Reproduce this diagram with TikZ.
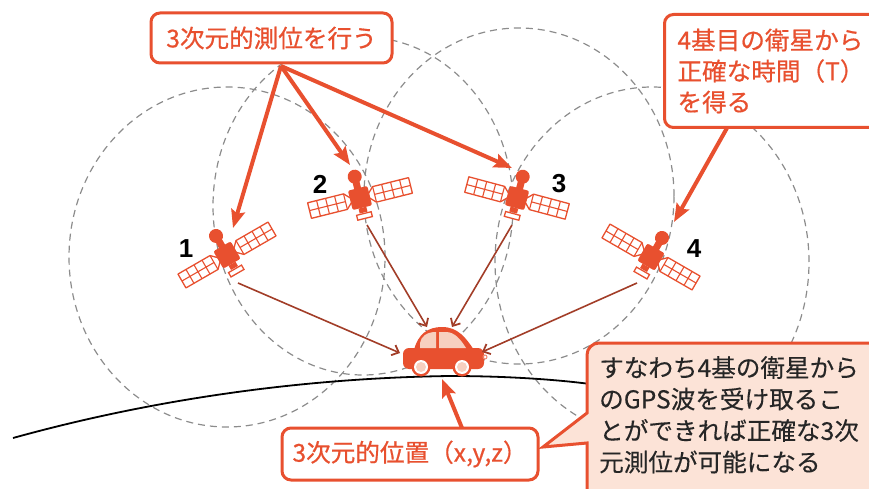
\documentclass[tikz,border=0pt]{standalone}
\usepackage{fontspec}
\setmainfont{Noto Sans CJK JP}
\newfontfamily\labelfont{Noto Sans CJK JP}[FakeBold=0.6]
\newfontfamily\notefont{Noto Sans CJK JP}[FakeBold=0.3]
\newfontfamily\digitfont{Liberation Sans}
\usetikzlibrary{arrows.meta}

\definecolor{gpsred}{HTML}{E8502F}
\definecolor{gpsdark}{HTML}{A23D28}
\definecolor{peach}{HTML}{FCE3D7}
\definecolor{glass}{HTML}{F7D0C0}
\definecolor{orbitgray}{HTML}{8C8C8C}
\definecolor{ink}{HTML}{262626}

\tikzset{
  orbit/.style={draw=orbitgray, line width=1.2pt, dash pattern=on 7pt off 5pt},
  labelbox/.style={draw=gpsred, line width=3pt, rounded corners=9pt, fill=white,
    text=gpsred, font=\labelfont\fontsize{24.6}{31}\selectfont, inner sep=0pt},
  pointer/.style={draw=gpsred, line width=4pt, -{Stealth[length=18pt,width=14pt,inset=3pt]}},
  signal/.style={draw=gpsdark, line width=1.6pt,
    -{Straight Barb[length=6pt,width=11pt,line width=1.8pt]}},
  satno/.style={font=\digitfont\bfseries\fontsize{26}{26}\selectfont, text=black, inner sep=0pt},
  satellite/.pic={
    % two solar panels with cell grids
    \foreach \s in {1,-1}{
      \begin{scope}[xscale=\s]
        \draw[gpsred, line width=1.3pt, fill=white, line join=round]
          (9,-2) -- (15,-8) -- (52,-8) -- (52,8) -- (15,8) -- (9,2) -- cycle;
        \draw[gpsred, line width=1.1pt]
          (15,-8) -- (15,8) (24.25,-8) -- (24.25,8) (33.5,-8) -- (33.5,8)
          (42.75,-8) -- (42.75,8) (15,0) -- (52,0);
      \end{scope}
    }
    % body, antenna head and base plate
    \fill[gpsred, rounded corners=2pt] (-10,-10) rectangle (10,10);
    \fill[gpsred] (0,-22) circle (7pt);
    \fill[gpsred] (-3.5,-16) rectangle (3.5,-9);
    \fill[gpsred] (-4,10) rectangle (4,15);
    \draw[gpsred, line width=1.3pt, fill=white] (-7.5,16) rectangle (7.5,21);
  }
}

\begin{document}
\begin{tikzpicture}[x=1pt, y=-1pt]
\useasboundingbox (0,0) rectangle (869,489);

% reception spheres
\draw[orbit] (227,257) ellipse [x radius=158pt, y radius=170pt];
\draw[orbit] (363,206) ellipse [x radius=150pt, y radius=169pt];
\draw[orbit] (519,196) ellipse [x radius=155pt, y radius=168pt];
\draw[orbit] (652,262) ellipse [x radius=157pt, y radius=175pt];

% earth surface
\draw[black, line width=1.8pt] (13,438) .. controls (150,400) and (300,378) .. (450,376)
  .. controls (510,376) and (560,380) .. (590,384);

% satellites
\pic[rotate=30]  at (227,255) {satellite};
\pic[rotate=14]  at (360,198) {satellite};
\pic[rotate=-15] at (517,198) {satellite};
\pic[rotate=-30] at (651,257) {satellite};

\node[satno] (n1) at (186,249) {1};
\node[satno] (n2) at (320,184) {2};
\node[satno] (n3) at (559,184) {3};
\node[satno] (n4) at (694,249) {4};

% car
\fill[gpsred] (474,350) .. controls (466,338) and (458,327) .. (442,327)
  .. controls (428,327) and (418,334) .. (414,350) -- cycle;
\fill[gpsred, rounded corners=6pt] (403,348) rectangle (484,369);
\fill[glass] (420,348) -- (420,343) .. controls (421,337) and (426,332) .. (436,332)
  -- (436,348) -- cycle;
\fill[glass] (439,332) -- (446,332) .. controls (455,332) and (461,340) .. (466,348)
  -- (439,348) -- cycle;
\foreach \wx in {421,462}{
  \fill[gpsred] (\wx,367) circle (9.5pt);
  \fill[white] (\wx,367) circle (7pt);
  \fill[glass] (\wx,367) circle (5pt);
}
\draw[gpsred!70, line width=1pt] (485,357) circle (2pt);

% anchor points
\coordinate (hub)  at (281,66);
\coordinate (hub4) at (727,128);
\coordinate (hub5) at (462,428);
\coordinate (s1in) at (233,228);
\coordinate (s2in) at (350,165);
\coordinate (s3in) at (512,168);
\coordinate (s4in) at (674,222);
\coordinate (s1out) at (238,283);
\coordinate (s2out) at (367,225);
\coordinate (s3out) at (512,225);
\coordinate (s4out) at (637,283);
\coordinate (carL)  at (400,353);
\coordinate (carTL) at (427,327);
\coordinate (carTR) at (452,327);
\coordinate (carR)  at (482,352);
\coordinate (carB)  at (442,379);

% signals from satellites to the car
\draw[signal] (s1out) -- (carL);
\draw[signal] (s2out) -- (carTL);
\draw[signal] (s3out) -- (carTR);
\draw[signal] (s4out) -- (carR);

% callouts
\node[labelbox, minimum width=241pt, minimum height=50pt] (aim) at (271.5,38) {3次元的測位を行う};
\node[labelbox, anchor=north west, minimum height=113pt, inner xsep=13pt,
  text width=205pt, align=left] (clock) at (663,13)
  {4基目の衛星から\\正確な時間（T）\\を得る};
\node[labelbox, minimum width=256pt, minimum height=52pt] (pos) at (410,454) {3次元的位置（x,y,z）};

\draw[pointer] (hub) -- (s1in);
\draw[pointer] (hub) -- (s2in);
\draw[pointer] (hub) -- (s3in);
\draw[pointer] (hub4) -- (s4in);
\draw[pointer] (hub5) -- (carB);

% summary balloon
\draw[gpsred, line width=3pt, fill=peach] (587,413) [rounded corners=12pt] -- (587,343)
  -- (890,343) -- (890,500) -- (587,500) [sharp corners] -- (587,443) -- (543,447) -- cycle;
\node[anchor=north west, inner sep=0pt, text=ink, align=left,
  font=\notefont\fontsize{24.6}{31.5}\selectfont] (note) at (599,356)
  {すなわち4基の衛星から\\のGPS波を受け取るこ\\とができれば正確な3次\\元測位が可能になる};
\end{tikzpicture}
\end{document}
